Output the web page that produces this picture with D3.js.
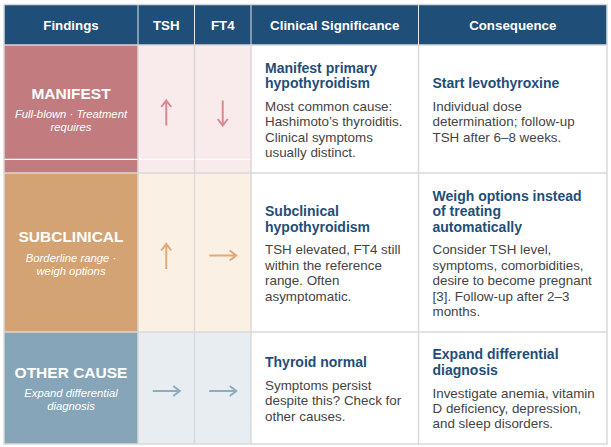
<!DOCTYPE html>
<html>
<head>
<meta charset="utf-8">
<script src="https://cdn.jsdelivr.net/npm/d3@7.9.0/dist/d3.min.js"></script>
<style>
  body { margin: 0; background: #fff; }
  svg { display: block; font-family: Arial, "Liberation Sans", sans-serif; }
</style>
</head>
<body>
<svg id="table" width="611" height="447"></svg>
<script>
// ===== DATA =====
const headers = ["Findings", "TSH", "FT4", "Clinical Significance", "Consequence"];
const categories = ["MANIFEST", "SUBCLINICAL", "OTHER CAUSE"];
const subtitles = [
  ["Full-blown · Treatment", "requires"],
  ["Borderline range ·", "weigh options"],
  ["Expand differential", "diagnosis"]
];
const tshDir = ["up", "up", "right"];
const ft4Dir = ["down", "right", "right"];
const clinicalTitles = [
  ["Manifest primary", "hypothyroidism"],
  ["Subclinical", "hypothyroidism"],
  ["Thyroid normal"]
];
const clinicalBodies = [
  ["Most common cause:", "Hashimoto’s thyroiditis.", "Clinical symptoms", "usually distinct."],
  ["TSH elevated, FT4 still", "within the reference", "range. Often", "asymptomatic."],
  ["Symptoms persist", "despite this? Check for", "other causes."]
];
const consequenceTitles = [
  ["Start levothyroxine"],
  ["Weigh options instead", "of treating", "automatically"],
  ["Expand differential", "diagnosis"]
];
const consequenceBodies = [
  ["Individual dose", "determination; follow-up", "TSH after 6–8 weeks."],
  ["Consider TSH level,", "symptoms, comorbidities,", "desire to become pregnant", "[3]. Follow-up after 2–3", "months."],
  ["Investigate anemia, vitamin", "D deficiency, depression,", "and sleep disorders."]
];

// ===== LAYOUT =====
const colEdges = [4, 138, 194.5, 251, 418.5, 607];
const rowEdges = [45, 173, 332, 444];
const headerTop = 5;

const darkColors = ["#c27b7e", "#d4a373", "#87a5b8"];
const lightColors = ["#f9eaeb", "#faf0e3", "#e8edf1"];
const arrowColors = ["#d68c92", "#e0aa78", "#8cacc0"];
const navy = "#1f4e79";
const bodyGray = "#444444";
const grid = "#d9d9d9";

const svg = d3.select("#table");

const xLeft = d3.scaleOrdinal().domain(d3.range(headers.length)).range(colEdges.slice(0, -1));
const xRight = d3.scaleOrdinal().domain(d3.range(headers.length)).range(colEdges.slice(1));
const yTop = d3.scaleOrdinal().domain(d3.range(categories.length)).range(rowEdges.slice(0, -1));
const yBot = d3.scaleOrdinal().domain(d3.range(categories.length)).range(rowEdges.slice(1));
const xMid = (i) => (xLeft(i) + xRight(i)) / 2;
const yMid = (r) => (yTop(r) + yBot(r)) / 2;

// header
svg.append("rect")
  .attr("x", colEdges[0]).attr("y", headerTop)
  .attr("width", colEdges[colEdges.length - 1] - colEdges[0])
  .attr("height", rowEdges[0] - headerTop)
  .attr("fill", navy);

svg.selectAll("text.hdr")
  .data(headers)
  .join("text")
  .attr("class", "hdr")
  .attr("x", (d, i) => xMid(i))
  .attr("y", (headerTop + rowEdges[0]) / 2)
  .attr("dy", "0.36em")
  .attr("text-anchor", "middle")
  .attr("fill", "#fff")
  .attr("font-weight", "bold")
  .attr("font-size", 13.3)
  .text((d) => d);

// body rows
categories.forEach((cat, r) => {
  const g = svg.append("g");
  const top = yTop(r), bot = yBot(r);

  // coloured cells
  g.append("rect").attr("x", xLeft(0)).attr("y", top)
    .attr("width", xRight(0) - xLeft(0)).attr("height", bot - top)
    .attr("fill", darkColors[r]);
  [1, 2].forEach((c) => {
    g.append("rect").attr("x", xLeft(c)).attr("y", top)
      .attr("width", xRight(c) - xLeft(c)).attr("height", bot - top)
      .attr("fill", lightColors[r]);
  });

  // odd white split line in the first row
  if (r === 0) {
    g.append("line")
      .attr("x1", xLeft(0)).attr("x2", xRight(2))
      .attr("y1", 159.3).attr("y2", 159.3)
      .attr("stroke", "#fff").attr("stroke-width", 1.3);
  }

  // findings label
  const cy = yMid(r) + 1;
  g.append("text")
    .attr("x", xMid(0)).attr("y", cy - 17).attr("dy", "0.36em")
    .attr("text-anchor", "middle").attr("fill", "#fff")
    .attr("font-weight", "bold").attr("font-size", 15.5)
    .text(cat);
  subtitles[r].forEach((line, k) => {
    g.append("text")
      .attr("x", xMid(0)).attr("y", cy + 4 + k * 13.3).attr("dy", "0.36em")
      .attr("text-anchor", "middle").attr("fill", "#fff")
      .attr("font-style", "italic").attr("font-size", 11.3)
      .text(line);
  });

  // arrows
  [[1, tshDir[r]], [2, ft4Dir[r]]].forEach(([c, dir]) => {
    const ax = xMid(c), ay = yMid(r) + 4;
    const L = 12.5, hw = 5, hl = 6.5;
    let p;
    if (dir === "up") {
      p = `M${ax},${ay + L}V${ay - L + 1}M${ax - hw},${ay - L + hl}L${ax},${ay - L}L${ax + hw},${ay - L + hl}`;
    } else if (dir === "down") {
      p = `M${ax},${ay - L}V${ay + L - 1}M${ax - hw},${ay + L - hl}L${ax},${ay + L}L${ax + hw},${ay + L - hl}`;
    } else {
      const ry = yMid(r) + 3;
      p = `M${ax - 13.5},${ry}H${ax + 12.5}M${ax + 13.5 - hl},${ry - hw}L${ax + 13.5},${ry}L${ax + 13.5 - hl},${ry + hw}`;
    }
    g.append("path").attr("d", p)
      .attr("fill", "none").attr("stroke", arrowColors[r])
      .attr("stroke-width", 2).attr("stroke-linejoin", "miter");
  });

  // text blocks
  function block(c, titles, body, xPad) {
    const tLH = 15.3, bLH = 15.4, gap = 23;
    const span = (titles.length - 1) * tLH + gap + (body.length - 1) * bLH;
    let y = yMid(r) + 1 - span / 2;
    const x = xLeft(c) + xPad;
    titles.forEach((t, k) => {
      g.append("text").attr("x", x).attr("y", y + k * tLH).attr("dy", "0.36em")
        .attr("fill", navy).attr("font-weight", "bold").attr("font-size", 14)
        .text(t);
    });
    y += (titles.length - 1) * tLH + gap;
    body.forEach((t, k) => {
      g.append("text").attr("x", x).attr("y", y + k * bLH).attr("dy", "0.36em")
        .attr("fill", bodyGray).attr("font-size", 13.4)
        .text(t);
    });
  }
  block(3, clinicalTitles[r], clinicalBodies[r], 14);
  block(4, consequenceTitles[r], consequenceBodies[r], 14);
});

// grid lines
const gridG = svg.append("g").attr("stroke", grid).attr("stroke-width", 1.5).attr("fill", "none");
colEdges.slice(1, -1).forEach((x) => {
  gridG.append("line").attr("x1", x).attr("x2", x)
    .attr("y1", rowEdges[0]).attr("y2", rowEdges[rowEdges.length - 1]);
  gridG.append("line").attr("x1", x).attr("x2", x)
    .attr("y1", headerTop).attr("y2", rowEdges[0]).attr("stroke", "#e6e6e6").attr("stroke-width", 1);
});
rowEdges.slice(0, -1).forEach((y) => {
  gridG.append("line").attr("x1", colEdges[0]).attr("x2", colEdges[colEdges.length - 1])
    .attr("y1", y).attr("y2", y);
});
gridG.append("rect")
  .attr("x", colEdges[0]).attr("y", headerTop - 0.5)
  .attr("width", colEdges[colEdges.length - 1] - colEdges[0])
  .attr("height", rowEdges[rowEdges.length - 1] - headerTop + 0.5);
</script>
</body>
</html>
